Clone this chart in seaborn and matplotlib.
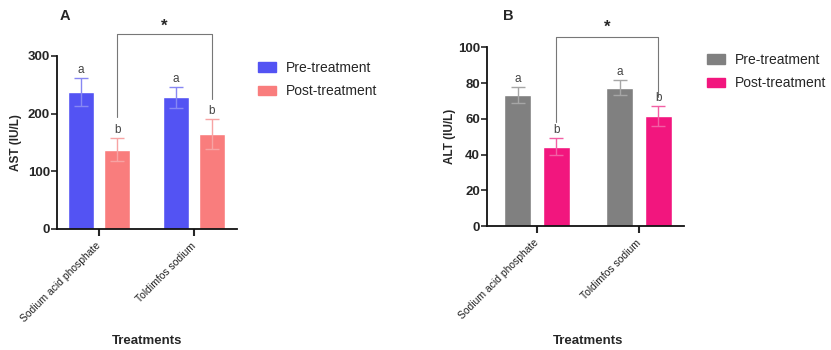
import pandas as pd
import numpy as np
import matplotlib.pyplot as plt
import seaborn as sns

# data
treatments = ['Sodium acid phosphate', 'Toldimfos sodium']
phases = ['Pre-treatment', 'Post-treatment']

ast_pre = [238, 228]
ast_post = [137, 164]
ast_pre_err = [24, 18]
ast_post_err = [20, 26]

alt_pre = [73.3, 77.4]
alt_post = [44.4, 61.6]
alt_pre_err = [4.3, 4.1]
alt_post_err = [4.6, 5.6]

letters_pre = ['a', 'a']
letters_post = ['b', 'b']

sns.set_style('ticks')
plt.rcParams['font.family'] = ['Liberation Sans', 'DejaVu Sans']

fig = plt.figure(figsize=(8.31, 3.5), dpi=100)
axA = fig.add_axes([0.0686, 0.346, 0.2166, 0.494])
axB = fig.add_axes([0.5857, 0.354, 0.2374, 0.511])


def panel(ax, pre, post, pre_err, post_err, colors, ylim, yticks, ylabel,
          xlim, bracket, star_y, ylab_x):
    df = pd.DataFrame({
        'Treatment': treatments * 2,
        'Phase': [phases[0]] * 2 + [phases[1]] * 2,
        'Value': pre + post,
    })
    sns.barplot(data=df, x='Treatment', y='Value', hue='Phase', order=treatments,
                hue_order=phases, palette=colors, width=0.76, gap=0.3,
                errorbar=None, saturation=1, ax=ax, legend=True)
    bars = list(ax.containers)
    errs = [pre_err, post_err]
    lets = [letters_pre, letters_post]
    light = [sns.light_palette(c, 4)[2] for c in colors]
    for k, cont in enumerate(bars):
        for j, bar in enumerate(cont):
            xc = bar.get_x() + bar.get_width() / 2
            h = bar.get_height()
            ax.errorbar(xc, h, yerr=errs[k][j], color=light[k], capsize=5,
                        elinewidth=1, capthick=1, zorder=1)
            ax.annotate(lets[k][j], (xc, h + errs[k][j]), xytext=(0, 6),
                        textcoords='offset points', ha='center', va='center',
                        fontsize=8.5, color='#444444')
    # bracket between post-treatment bars
    post_bars = bars[1]
    x1 = post_bars[0].get_x() + post_bars[0].get_width() / 2
    x2 = post_bars[1].get_x() + post_bars[1].get_width() / 2
    top, yl, yr = bracket
    ax.plot([x1, x1, x2, x2], [yl, top, top, yr], color='#777777', lw=0.8,
            clip_on=False)
    ax.text((x1 + x2) / 2, star_y, '*', ha='center', va='center',
            fontsize=12, fontweight='bold')

    ax.set_ylim(*ylim)
    ax.set_xlim(*xlim)
    ax.set_yticks(yticks)
    ax.set_yticklabels([str(t) for t in yticks], fontweight='bold', fontsize=9.5)
    ax.set_xticks(range(len(treatments)))
    ax.set_xticklabels(treatments, rotation=45, ha='right', va='center',
                       rotation_mode='anchor', fontsize=7.5, color='#222222')
    ax.set_xlabel('')
    ax.set_ylabel(ylabel, fontweight='bold', fontsize=8.5)
    ax.yaxis.set_label_coords(ylab_x, 0.5)
    sns.despine(ax=ax)
    for s in ['left', 'bottom']:
        ax.spines[s].set_linewidth(1.3)
        ax.spines[s].set_color('#111111')
    ax.tick_params(axis='y', length=4, width=1.2, pad=1)
    ax.tick_params(axis='x', length=5, width=1.5, pad=6)
    ax.legend_.remove()
    return bars


barsA = panel(axA, ast_pre, ast_post, ast_pre_err, ast_post_err,
              ['#5353F3', '#F97D7D'], (0, 300), [0, 100, 200, 300], 'AST (IU/L)',
              (-0.442, 1.453), (338, 194, 225), 352, -0.194)
barsB = panel(axB, alt_pre, alt_post, alt_pre_err, alt_post_err,
              ['#808080', '#F2167E'], (0, 100), [0, 20, 40, 60, 80, 100], 'ALT (IU/L)',
              (-0.493, 1.441), (105.9, 58.2, 72.2), 111, -0.156)

for bars, x0, y0 in [(barsA, 258 / 831, 1 - 61 / 350), (barsB, 706.7 / 831, 1 - 53 / 350)]:
    handles = [plt.Rectangle((0, 0), 1, 1, color=c.patches[0].get_facecolor())
               for c in bars]
    fig.legend(handles, phases, loc='upper left', bbox_to_anchor=(x0, y0),
               frameon=False, fontsize=10, handlelength=1.3, handleheight=0.65,
               handletextpad=0.7, labelspacing=0.65, borderpad=0, borderaxespad=0)

fig.text(65 / 831, 1 - 16 / 350, 'A', fontweight='bold', fontsize=10.5,
         ha='center', va='center')
fig.text(508 / 831, 1 - 16 / 350, 'B', fontweight='bold', fontsize=10.5,
         ha='center', va='center')
fig.text(147 / 831, 1 - 341 / 350, 'Treatments', fontweight='bold', fontsize=9.5,
         ha='center', va='center')
fig.text(588 / 831, 1 - 341 / 350, 'Treatments', fontweight='bold', fontsize=9.5,
         ha='center', va='center')

fig.savefig('out.png', dpi=100)
